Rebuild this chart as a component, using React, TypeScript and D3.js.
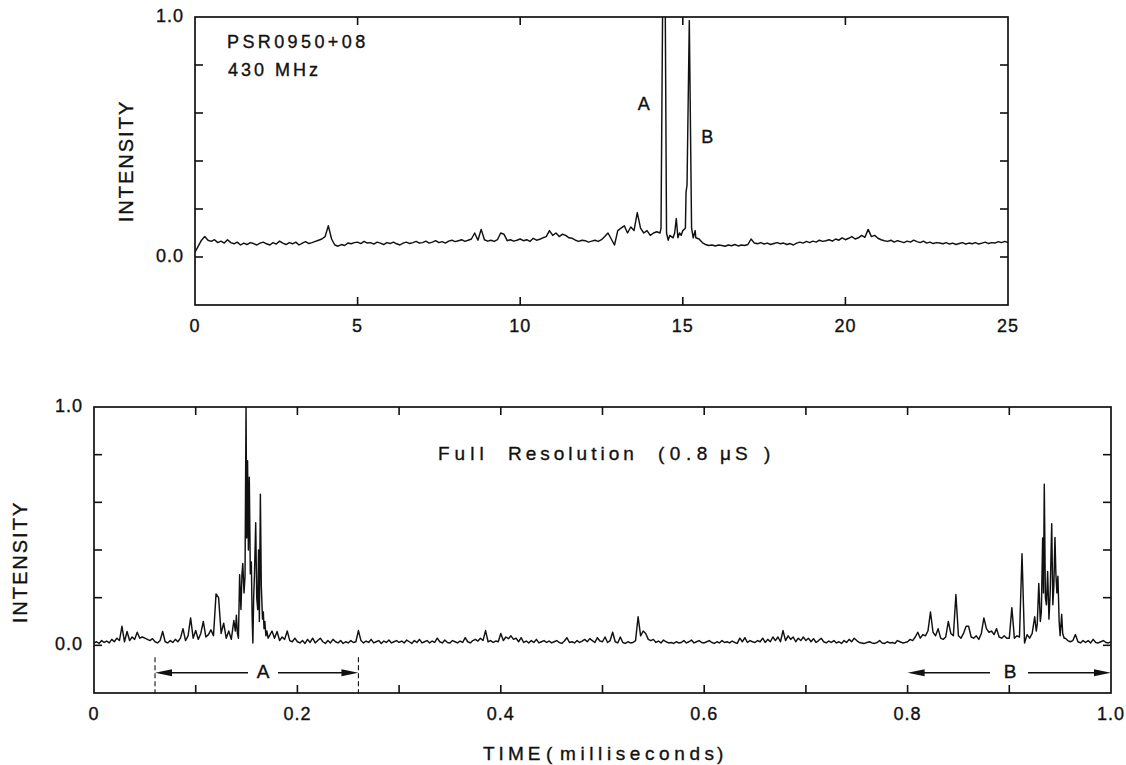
import React from "react";
import * as d3 from "d3";

// ---------------- DATA ----------------
// Upper panel: integrated pulse profile, time in ms, sampled every 0.1 ms
const profileStep = 0.1;
const profileIntensity = [
  0.02, 0.045, 0.07, 0.085, 0.07, 0.065, 0.072, 0.06, 0.066, 0.058,
  0.072, 0.06, 0.055, 0.062, 0.05, 0.058, 0.052, 0.06, 0.056, 0.05,
  0.058, 0.062, 0.055, 0.05, 0.06, 0.054, 0.066, 0.058, 0.052, 0.06,
  0.055, 0.062, 0.05, 0.058, 0.064, 0.056, 0.06, 0.065, 0.07, 0.075,
  0.085, 0.13, 0.075, 0.05, 0.045, 0.052, 0.048, 0.058, 0.055, 0.06,
  0.062, 0.056, 0.065, 0.058, 0.06, 0.054, 0.062, 0.058, 0.052, 0.06,
  0.056, 0.062, 0.055, 0.05, 0.058, 0.062, 0.056, 0.06, 0.065, 0.058,
  0.06, 0.066, 0.058, 0.062, 0.068, 0.06, 0.064, 0.058, 0.066, 0.07,
  0.064, 0.068, 0.072, 0.065, 0.07, 0.075, 0.1, 0.07, 0.115, 0.072,
  0.066, 0.07, 0.065, 0.072, 0.1, 0.095, 0.068, 0.072, 0.066, 0.07,
  0.075, 0.068, 0.072, 0.065, 0.078, 0.07, 0.074, 0.08, 0.085, 0.11,
  0.09, 0.1, 0.085, 0.095, 0.09, 0.08, 0.078, 0.07, 0.065, 0.07,
  0.068, 0.062, 0.066, 0.07, 0.065, 0.072, 0.085, 0.1, 0.075, 0.05,
  0.11, 0.12, 0.13, 0.1, 0.125, 0.11, 0.185, 0.12, 0.1, 0.11,
  0.09, 0.1, 0.105, 0.1, 0.12, 0.1, 0.09, 0.08, 0.16, 0.1,
  0.11, 0.3, 0.98, 0.1, 0.11, 0.075, 0.06, 0.052, 0.048, 0.05,
  0.046, 0.05, 0.048, 0.045, 0.05, 0.047, 0.052, 0.046, 0.05, 0.048,
  0.052, 0.075, 0.058, 0.055, 0.06, 0.054, 0.058, 0.052, 0.056, 0.06,
  0.055, 0.058, 0.052, 0.056, 0.05, 0.058, 0.062, 0.058, 0.065, 0.06,
  0.066, 0.062, 0.07, 0.065, 0.068, 0.072, 0.066, 0.075, 0.07, 0.08,
  0.072, 0.078, 0.085, 0.075, 0.08, 0.09, 0.082, 0.115, 0.085, 0.09,
  0.078, 0.072, 0.068, 0.065, 0.07, 0.062, 0.068, 0.064, 0.06, 0.066,
  0.062, 0.07, 0.064, 0.06, 0.066, 0.058, 0.062, 0.056, 0.06, 0.058,
  0.055, 0.06, 0.054, 0.058, 0.052, 0.056, 0.06, 0.054, 0.058, 0.055,
  0.06, 0.054, 0.058, 0.062, 0.056, 0.06, 0.058, 0.064, 0.06, 0.065,
  0.06,
];
// finely sampled region around components A and B
const profilePeakTime = [
  14.3, 14.33, 14.38, 14.46, 14.5, 14.55, 14.6, 14.7, 14.75, 14.8, 14.85,
  14.9, 14.95, 15.0, 15.08, 15.1, 15.13, 15.2, 15.27, 15.32, 15.38, 15.4,
];
const profilePeakIntensity = [
  0.1, 0.12, 1.05, 1.05, 0.1, 0.07, 0.09, 0.08, 0.1, 0.16, 0.08,
  0.1, 0.09, 0.11, 0.12, 0.27, 0.3, 0.985, 0.12, 0.08, 0.11, 0.08,
];

// Lower panel: full-resolution single pulse, sampled every 0.0025 ms
const fullResStep = 0.0025;
const fullResFirstHalf = [
  0.01, 0.015, 0.008, 0.02, 0.012, 0.018, 0.01, 0.025, 0.015, 0.03, 0.02, 0.08, 0.015, 0.058, 0.02, 0.035, 0.025, 0.055, 0.03, 0.035,
  0.03, 0.025, 0.02, 0.028, 0.015, 0.01, 0.02, 0.058, 0.015, 0.01, 0.02, 0.012, 0.025, 0.015, 0.03, 0.07, 0.02, 0.04, 0.115, 0.03,
  0.062, 0.025, 0.05, 0.1, 0.035, 0.045, 0.065, 0.04, 0.216, 0.2, 0.05, 0.093, 0.03, 0.06, 0.025, 0.104, 0.126, 0.04, 0.3, 0.34,
  1.0, 0.7, 0.35, 0.02, 0.51, 0.15, 0.63, 0.11, 0.08, 0.04, 0.06, 0.03, 0.058, 0.02, 0.035, 0.025, 0.06, 0.02, 0.015, 0.03,
  0.015, 0.01, 0.02, 0.008, 0.025, 0.012, 0.03, 0.01, 0.02, 0.03, 0.015, 0.008, 0.02, 0.01, 0.025, 0.015, 0.01, 0.02, 0.008, 0.015,
  0.01, 0.02, 0.012, 0.015, 0.062, 0.02, 0.01, 0.018, 0.012, 0.025, 0.01, 0.015, 0.02, 0.008, 0.018, 0.012, 0.022, 0.01, 0.015, 0.02,
  0.012, 0.018, 0.01, 0.022, 0.015, 0.008, 0.02, 0.012, 0.025, 0.01, 0.015, 0.02, 0.01, 0.018, 0.012, 0.03, 0.015, 0.01, 0.022, 0.012,
  0.01, 0.02, 0.015, 0.01, 0.018, 0.012, 0.032, 0.015, 0.01, 0.02, 0.025, 0.018, 0.03, 0.02, 0.062, 0.015, 0.02, 0.012, 0.018, 0.015,
  0.05, 0.02, 0.035, 0.028, 0.04, 0.025, 0.03, 0.015, 0.032, 0.012, 0.018, 0.01, 0.02, 0.012, 0.025, 0.01, 0.015, 0.02, 0.012, 0.018,
  0.01, 0.015, 0.02, 0.012, 0.008, 0.018, 0.032, 0.012, 0.015, 0.01, 0.02, 0.012, 0.018, 0.025, 0.015, 0.028, 0.02, 0.012, 0.032, 0.018,
];
const fullResSecondHalf = [
  0.015, 0.035, 0.012, 0.02, 0.055, 0.015, 0.01, 0.035, 0.012, 0.008, 0.015, 0.01, 0.012, 0.02, 0.12, 0.04, 0.06, 0.05, 0.025, 0.02,
  0.025, 0.012, 0.018, 0.01, 0.022, 0.015, 0.01, 0.012, 0.008, 0.015, 0.01, 0.012, 0.02, 0.01, 0.015, 0.022, 0.01, 0.015, 0.02, 0.012,
  0.01, 0.015, 0.02, 0.012, 0.008, 0.015, 0.01, 0.02, 0.012, 0.015, 0.01, 0.018, 0.012, 0.008, 0.03, 0.015, 0.032, 0.012, 0.02, 0.015,
  0.012, 0.02, 0.015, 0.03, 0.012, 0.025, 0.015, 0.035, 0.02, 0.035, 0.015, 0.062, 0.02, 0.04, 0.025, 0.035, 0.015, 0.03, 0.02, 0.035,
  0.02, 0.03, 0.015, 0.028, 0.012, 0.02, 0.03, 0.015, 0.01, 0.018, 0.012, 0.02, 0.01, 0.015, 0.008, 0.02, 0.012, 0.025, 0.015, 0.03,
  0.02, 0.012, 0.01, 0.008, 0.012, 0.015, 0.01, 0.008, 0.012, 0.02, 0.01, 0.008, 0.015, 0.01, 0.012, 0.008, 0.02, 0.015, 0.01, 0.012,
  0.015, 0.025, 0.02, 0.035, 0.055, 0.03, 0.045, 0.04, 0.06, 0.14, 0.055, 0.04, 0.07, 0.03, 0.025, 0.035, 0.1, 0.05, 0.04, 0.213,
  0.04, 0.03, 0.05, 0.08, 0.08, 0.035, 0.03, 0.04, 0.025, 0.05, 0.115, 0.07, 0.055, 0.06, 0.045, 0.07, 0.035, 0.03, 0.04, 0.03,
  0.03, 0.158, 0.03, 0.04, 0.035, 0.384, 0.01, 0.045, 0.03, 0.05, 0.12, 0.09, 0.26, 0.45, 0.676, 0.31, 0.51, 0.17, 0.453, 0.3,
  0.1, 0.13, 0.03, 0.02, 0.015, 0.02, 0.045, 0.015, 0.01, 0.02, 0.012, 0.02, 0.01, 0.025, 0.012, 0.01, 0.015, 0.02, 0.012, 0.01,
  0.015,
];
// finely sampled bursts of components A and B
const burstATime = [
  0.1375, 0.139, 0.14, 0.141, 0.142, 0.1432, 0.1445, 0.1455, 0.1463, 0.1475, 0.1485, 0.1495,
  0.1502, 0.151, 0.1518, 0.1527, 0.1537, 0.1547, 0.1555, 0.1562, 0.157, 0.1578, 0.159, 0.16,
  0.161, 0.1618, 0.1626, 0.1636, 0.1645, 0.1657, 0.1665, 0.1672, 0.168, 0.169, 0.17, 0.1712, 0.1725,
];
const burstAIntensity = [
  0.104, 0.06, 0.126, 0.05, 0.03, 0.296, 0.15, 0.3, 0.343, 0.22, 0.29, 1.0,
  0.45, 0.775, 0.4, 0.705, 0.3, 0.35, 0.12, 0.01, 0.2, 0.3, 0.514, 0.2,
  0.15, 0.4, 0.1, 0.634, 0.25, 0.11, 0.14, 0.07, 0.1, 0.04, 0.06, 0.03, 0.04,
];
const burstBTime = [
  0.9225, 0.925, 0.9265, 0.9275, 0.929, 0.9305, 0.9315, 0.9328, 0.9336, 0.9344, 0.9355, 0.9365,
  0.9377, 0.939, 0.9402, 0.9417, 0.9428, 0.9438, 0.9449, 0.9458, 0.9468, 0.9478, 0.949, 0.95,
  0.9515, 0.9525, 0.954,
];
const burstBIntensity = [
  0.05, 0.12, 0.06, 0.09, 0.26, 0.1, 0.14, 0.45, 0.22, 0.676, 0.2, 0.17,
  0.31, 0.11, 0.22, 0.51, 0.17, 0.25, 0.453, 0.3, 0.22, 0.29, 0.1, 0.04,
  0.13, 0.05, 0.03,
];

// ticks / labels
const profileXTicks = [5, 10, 15, 20];
const profileXLabels = [0, 5, 10, 15, 20, 25];
const fullResXTicks = [0.1, 0.2, 0.3, 0.4, 0.5, 0.6, 0.7, 0.8, 0.9];
const fullResXLabels = [0, 0.2, 0.4, 0.6, 0.8, 1.0];
const yTicks = [0, 0.2, 0.4, 0.6, 0.8];
const yLabels = [0, 1];
const componentA = [0.06, 0.26];
const componentB = [0.8, 1.0];

// ---------------- helpers ----------------
type Pt = [number, number];
function buildSeries(step: number, base: number[], bursts: { t: number[]; v: number[] }[]): Pt[] {
  const pts: Pt[] = base
    .map((v, i) => [i * step, v] as Pt)
    .filter(([t]) => !bursts.some((b) => t >= b.t[0] - 1e-9 && t <= b.t[b.t.length - 1] + 1e-9));
  bursts.forEach((b) => b.t.forEach((t, i) => pts.push([t, b.v[i]])));
  return pts.sort((a, b) => a[0] - b[0]);
}

const FONT = "'Liberation Sans', Arial, Helvetica, sans-serif";
const TICK = 8;
const INK = "#111";
const txt = { fontFamily: FONT, fill: INK, stroke: INK, strokeWidth: 0.35 } as const;

type Box = { left: number; right: number; top: number; bottom: number };

function Frame({ id, box, x, y, xTicks, xLabels, fmtX, series }: {
  id: string; box: Box; x: d3.ScaleLinear<number, number>; y: d3.ScaleLinear<number, number>;
  xTicks: number[]; xLabels: number[]; fmtX: (v: number) => string; series: Pt[];
}) {
  const line = d3.line<Pt>().x((d) => x(d[0])).y((d) => y(d[1]));
  return (
    <g>
      <defs>
        <clipPath id={id}>
          <rect x={box.left} y={box.top} width={box.right - box.left} height={box.bottom - box.top} />
        </clipPath>
      </defs>
      <path d={line(series) || ""} fill="none" stroke={INK} strokeWidth={1.45} strokeLinejoin="round" clipPath={`url(#${id})`} />
      <rect x={box.left} y={box.top} width={box.right - box.left} height={box.bottom - box.top} fill="none" stroke={INK} strokeWidth={1.7} />
      {xTicks.map((t) => (
        <g key={"xt" + t}>
          <line x1={x(t)} x2={x(t)} y1={box.top} y2={box.top + TICK} stroke={INK} strokeWidth={1.6} />
          <line x1={x(t)} x2={x(t)} y1={box.bottom} y2={box.bottom - TICK} stroke={INK} strokeWidth={1.6} />
        </g>
      ))}
      {yTicks.map((t) => (
        <g key={"yt" + t}>
          <line x1={box.left} x2={box.left + TICK} y1={y(t)} y2={y(t)} stroke={INK} strokeWidth={1.6} />
          <line x1={box.right} x2={box.right - TICK} y1={y(t)} y2={y(t)} stroke={INK} strokeWidth={1.6} />
        </g>
      ))}
      {xLabels.map((t) => (
        <text key={"xl" + t} x={x(t)} y={box.bottom + 22} textAnchor="middle" dominantBaseline="middle"
          fontSize={18} letterSpacing={1} {...txt}>{fmtX(t)}</text>
      ))}
      {yLabels.map((t) => (
        <text key={"yl" + t} x={box.left - 11} y={y(t)} textAnchor="end" dominantBaseline="middle"
          fontSize={18} letterSpacing={1} {...txt}>{t.toFixed(1)}</text>
      ))}
    </g>
  );
}

function Arrow({ x1, x2, y, gapL, gapR }: { x1: number; x2: number; y: number; gapL: number; gapR: number }) {
  const hl = 17, hw = 3.5;
  return (
    <g>
      <line x1={x1 + hl - 2} x2={gapL} y1={y} y2={y} stroke={INK} strokeWidth={1.4} />
      <line x1={gapR} x2={x2 - hl + 2} y1={y} y2={y} stroke={INK} strokeWidth={1.4} />
      <path d={`M${x1},${y}L${x1 + hl},${y - hw}L${x1 + hl},${y + hw}Z`} fill={INK} />
      <path d={`M${x2},${y}L${x2 - hl},${y - hw}L${x2 - hl},${y + hw}Z`} fill={INK} />
    </g>
  );
}

export default function App() {
  const topBox: Box = { left: 195, right: 1008, top: 17, bottom: 305 };
  const botBox: Box = { left: 94, right: 1111, top: 407, bottom: 693 };

  const xTop = d3.scaleLinear().domain([0, 25]).range([topBox.left, topBox.right]);
  const yTop = d3.scaleLinear().domain([-0.2, 1.0]).range([topBox.bottom, topBox.top]);
  const xBot = d3.scaleLinear().domain([0, 1]).range([botBox.left, botBox.right]);
  const yBot = d3.scaleLinear().domain([-0.2, 1.0]).range([botBox.bottom, botBox.top]);

  const profile = buildSeries(profileStep, profileIntensity, [{ t: profilePeakTime, v: profilePeakIntensity }]);
  const fullRes = buildSeries(fullResStep, fullResFirstHalf.concat(fullResSecondHalf), [
    { t: burstATime, v: burstAIntensity },
    { t: burstBTime, v: burstBIntensity },
  ]);

  const arrowY = yBot(-0.115);

  return (
    <svg width={1126} height={765} style={{ position: "absolute", left: 0, top: 0, background: "#fff" }}>
      <rect x={0} y={0} width={1126} height={765} fill="#fff" />
      <Frame id="clipTop" box={topBox} x={xTop} y={yTop} xTicks={profileXTicks} xLabels={profileXLabels}
        fmtX={(v) => String(v)} series={profile} />
      <Frame id="clipBot" box={botBox} x={xBot} y={yBot} xTicks={fullResXTicks} xLabels={fullResXLabels}
        fmtX={(v) => (v === 0 ? "0" : v.toFixed(1))} series={fullRes} />

      {/* Upper panel annotations */}
      <text x={227} y={43} dominantBaseline="middle" fontSize={18} letterSpacing={3.4} {...txt}>PSR0950+08</text>
      <text x={228} y={71} dominantBaseline="middle" fontSize={18} letterSpacing={3} {...txt}>430 MHz</text>
      <text x={xTop(13.8)} y={yTop(0.633)} textAnchor="middle" dominantBaseline="middle" fontSize={18} {...txt}>A</text>
      <text x={xTop(15.75)} y={yTop(0.496)} textAnchor="middle" dominantBaseline="middle" fontSize={18} {...txt}>B</text>
      <text transform={`translate(128,${(topBox.top + topBox.bottom) / 2}) rotate(-90)`} textAnchor="middle"
        dominantBaseline="middle" fontSize={20} letterSpacing={2} {...txt}>INTENSITY</text>

      {/* Lower panel annotations */}
      <text x={438} y={455} dominantBaseline="middle" fontSize={19} {...txt}>
        <tspan x={438} letterSpacing={5}>Full</tspan>
        <tspan x={508} letterSpacing={4}>Resolution</tspan>
        <tspan x={658} letterSpacing={5.5}>(0.8</tspan>
        <tspan x={720} letterSpacing={4}>μS</tspan>
        <tspan x={764}>)</tspan>
      </text>
      <text transform={`translate(22,${(botBox.top + botBox.bottom) / 2 + 12}) rotate(-90)`} textAnchor="middle"
        dominantBaseline="middle" fontSize={20} letterSpacing={2} {...txt}>INTENSITY</text>
      <text y={755} dominantBaseline="middle" fontSize={19} {...txt}>
        <tspan x={483} letterSpacing={4}>TIME</tspan>
        <tspan x={546}>(</tspan>
        <tspan x={560} letterSpacing={4.6}>milliseconds</tspan>
        <tspan x={717}>)</tspan>
      </text>

      {/* component markers */}
      {componentA.map((t) => (
        <line key={"da" + t} x1={xBot(t)} x2={xBot(t)} y1={yBot(-0.05)} y2={botBox.bottom}
          stroke={INK} strokeWidth={1.1} strokeDasharray="5,3" />
      ))}
      <Arrow x1={xBot(componentA[0])} x2={xBot(componentA[1])} y={arrowY} gapL={248} gapR={278} />
      <text x={263} y={arrowY} textAnchor="middle" dominantBaseline="middle" fontSize={19} {...txt}>A</text>
      <Arrow x1={xBot(componentB[0])} x2={xBot(componentB[1])} y={arrowY} gapL={990} gapR={1028} />
      <text x={1010} y={arrowY} textAnchor="middle" dominantBaseline="middle" fontSize={19} {...txt}>B</text>
    </svg>
  );
}
